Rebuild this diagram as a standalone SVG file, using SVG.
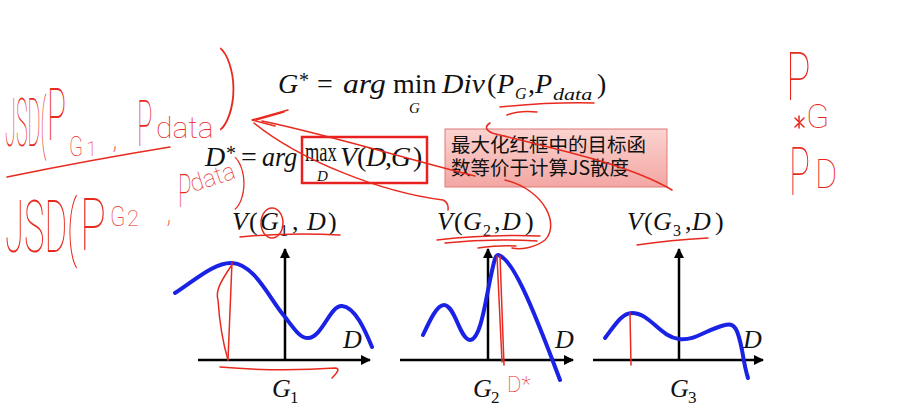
<svg xmlns="http://www.w3.org/2000/svg" width="897" height="419" viewBox="0 0 897 419">
<defs>
<style>
.m{font-family:"Liberation Serif",serif;font-size:28px;fill:#111}
.t{font-family:"Liberation Serif",serif;font-size:26px;fill:#111}
.i{font-style:italic}
.axis{stroke:#000;stroke-width:2.5;fill:none}
.curve{stroke:#1a22e6;stroke-width:4;fill:none;stroke-linecap:round}
.ink{stroke:#e8291e;stroke-width:1.5;fill:none;stroke-linecap:round;stroke-linejoin:round}
.hw{font-family:Roboto,"Open Sans",sans-serif;font-weight:100;fill:#e8291e}
.cn{font-family:"Noto Sans CJK SC",sans-serif;font-size:19.5px;fill:#111}
</style>
<marker id="ah" viewBox="0 0 10 10" refX="9" refY="5" markerWidth="4" markerHeight="4" orient="auto">
<path d="M0 0 L10 5 L0 10 z" fill="#000"/>
</marker>
<linearGradient id="pk" x1="0" y1="0" x2="0" y2="1">
<stop offset="0" stop-color="#fbd3d0"/>
<stop offset="1" stop-color="#f3a7a3"/>
</linearGradient>
</defs>
<rect width="897" height="419" fill="#fff"/>

<g id="formula-g">
<text class="m"><tspan class="i" x="278" y="93">G</tspan><tspan x="299" y="87" style="font-size:20px">*</tspan><tspan x="317" y="93">=</tspan></text>
<text class="m i" transform="matrix(1.13 0 0 1 343 93)">arg</text>
<text class="m" x="393" y="93">min</text>
<text class="m i" x="409" y="113" style="font-size:15px">G</text>
<text class="m i" transform="matrix(1.06 0 0 1 442 93)">Div</text>
<text class="m"><tspan x="487" y="93">(</tspan><tspan class="i" x="497" y="93">P</tspan><tspan class="i" x="515" y="99" style="font-size:16px">G</tspan><tspan x="528" y="93">,</tspan><tspan class="i" x="535" y="93">P</tspan></text>
<text class="m i" style="font-size:17px" transform="matrix(1.3 0 0 1 553 100)">data</text>
<text class="m" x="597" y="93">)</text>
</g>

<g id="formula-d">
<text class="m"><tspan class="i" x="205" y="166">D</tspan><tspan x="226" y="160" style="font-size:20px">*</tspan><tspan x="241" y="166">=</tspan></text>
<text class="m i" transform="matrix(0.93 0 0 1 262 166)">arg</text>
<text class="m" transform="matrix(0.66 0 0 1 305 161)">max</text>
<text class="m i" x="317" y="181" style="font-size:15px">D</text>
<text class="m"><tspan class="i" x="340" y="166">V</tspan><tspan x="357" y="166">(</tspan><tspan class="i" x="366" y="166">D</tspan><tspan x="385" y="166">,</tspan><tspan class="i" x="391" y="166">G</tspan><tspan x="413" y="166">)</tspan></text>
<rect x="302" y="137" width="125" height="46" fill="none" stroke="#e82020" stroke-width="2.5"/>
</g>

<g id="callout">
<rect x="445" y="129" width="222" height="58" fill="url(#pk)" stroke="#e07a78" stroke-width="1"/>
<text class="cn"><tspan x="451" y="152">最大化红框中的目标函</tspan><tspan x="451" y="175">数等价于计算JS散度</tspan></text>
</g>

<g id="plot1">
<text class="t"><tspan class="i" x="232" y="230">V</tspan><tspan x="249" y="230">(</tspan><tspan class="i" x="260" y="230">G</tspan><tspan x="280" y="236" style="font-size:16px">1</tspan><tspan x="292" y="230">,</tspan><tspan class="i" x="307" y="230">D</tspan><tspan x="328" y="230">)</tspan></text>
<line class="axis" x1="285" y1="361" x2="285" y2="249" marker-end="url(#ah)"/>
<line class="axis" x1="198" y1="360" x2="370" y2="360" marker-end="url(#ah)"/>
<path class="curve" d="M175 293 C195 280 215 262 232 263 C255 264 270 300 285 317 C295 330 300 338 308 338 C322 338 330 305 342 306 C355 307 365 330 372 347"/>
<text class="t i" x="343" y="348">D</text>
<text class="t"><tspan class="i" x="272" y="397">G</tspan><tspan x="290" y="403" style="font-size:17px">1</tspan></text>
</g>

<g id="plot2">
<text class="t"><tspan class="i" x="437" y="230">V</tspan><tspan x="454" y="230">(</tspan><tspan class="i" x="463" y="230">G</tspan><tspan x="483" y="236" style="font-size:16px">2</tspan><tspan x="494" y="230">,</tspan><tspan class="i" x="502" y="230">D</tspan><tspan x="525" y="230">)</tspan></text>
<line class="axis" x1="488" y1="361" x2="488" y2="249" marker-end="url(#ah)"/>
<line class="axis" x1="400" y1="360" x2="573" y2="360" marker-end="url(#ah)"/>
<path class="curve" d="M423 335 C430 320 437 305 444 305 C455 305 460 340 470 340 C480 340 485 305 490 280 C494 262 495 255 498 255 C512 258 530 300 560 380"/>
<text class="t i" x="555" y="348">D</text>
<text class="t"><tspan class="i" x="473" y="397">G</tspan><tspan x="491" y="403" style="font-size:17px">2</tspan></text>
</g>

<g id="plot3">
<text class="t"><tspan class="i" x="627" y="230">V</tspan><tspan x="644" y="230">(</tspan><tspan class="i" x="653" y="230">G</tspan><tspan x="673" y="236" style="font-size:16px">3</tspan><tspan x="685" y="230">,</tspan><tspan class="i" x="692" y="230">D</tspan><tspan x="715" y="230">)</tspan></text>
<line class="axis" x1="679" y1="361" x2="679" y2="249" marker-end="url(#ah)"/>
<line class="axis" x1="593" y1="360" x2="763" y2="360" marker-end="url(#ah)"/>
<path class="curve" d="M605 338 C615 325 622 313 632 313 C650 313 660 337 679 339 C695 341 705 330 725 325 C735 322 738 330 742 350 C744 362 746 372 748 378"/>
<text class="t i" x="743" y="348">D</text>
<text class="t"><tspan class="i" x="670" y="397">G</tspan><tspan x="688" y="403" style="font-size:17px">3</tspan></text>
</g>

<g id="handwriting-left">
<text class="hw" font-size="66" transform="matrix(0.30 0 0 1 5 146)">JSD(</text>
<text class="hw" font-size="72" transform="matrix(0.44 0 0 1 47 140)">P</text>
<text class="hw" font-size="28" transform="matrix(0.73 0 0 1 69 156)">G</text>
<text class="hw" x="86" y="156" font-size="20">1</text>
<text class="hw" x="112" y="148" font-size="30">,</text>
<text class="hw" font-size="64" transform="matrix(0.4 0 0 1 137 146)">P</text>
<text class="hw" x="156" y="138" font-size="30">data</text>
<text class="hw" font-size="82" transform="matrix(0.83 0 0 1 219 112)">)</text>
<text class="hw" font-size="72" transform="matrix(0.48 0 0 1 5 252)">JSD(</text>
<text class="hw" font-size="72" transform="matrix(0.6 0 0 1 80 250)">P</text>
<text class="hw" font-size="28" transform="matrix(0.8 0 0 1 110 226)">G</text>
<text class="hw" x="127" y="226" font-size="22">2</text>
<text class="hw" x="166" y="222" font-size="30">,</text>
<text class="hw" font-size="46" transform="matrix(0.48 0 0 1 178 207)">P</text>
<text class="hw" x="193" y="192" font-size="24" transform="rotate(-18 193 192)">data</text>
<text class="hw" font-size="52" transform="matrix(0.9 0 0 1 234 198)">)</text>
</g>

<g id="handwriting-right">
<text class="hw" font-size="66" transform="matrix(0.62 0 0 1 786 100)">P</text>
<text class="hw" x="806" y="128" font-size="34">G</text>
<path class="ink" d="M795 118 l9 9 m-9 0 l9 -9 m-5 -2 l0 12"/>
<text class="hw" font-size="66" transform="matrix(0.53 0 0 1 789 195)">P</text>
<text class="hw" font-size="40" transform="matrix(0.85 0 0 1 815 188)">D</text>
<text class="hw" x="507" y="392" font-size="22">D*</text>
</g>

<g id="connectors">
<path class="ink" d="M7 177 Q90 160 170 147"/>
<path class="ink" d="M288 110 L252 120 L275 126"/>
<path class="ink" d="M284 112 L256 120"/>
<path class="ink" d="M262 121 C330 135 410 160 475 176"/>
<path class="ink" d="M254 123 C300 160 380 192 443 200 Q449 203 448 210"/>
<path class="ink" d="M490 123 Q482 128 492 133 C560 150 630 165 672 190"/>
<path class="ink" d="M500 107 Q550 102 594 103"/>
<path class="ink" d="M507 115 Q520 110 537 112"/>
<path class="ink" d="M437 240 Q490 234 540 236"/>
<path class="ink" d="M445 243 Q490 238 537 241"/>
<path class="ink" d="M478 248 Q500 245 516 246"/>
<path class="ink" d="M505 180 C545 190 560 225 545 240 C535 248 520 250 512 248"/>
<path class="ink" d="M497 256 L502 362 M500 256 L504 365"/>
<ellipse class="ink" cx="272" cy="223" rx="11" ry="15"/>
<path class="ink" d="M240 237 Q290 232 340 235"/>
<path class="ink" d="M232 262 L228 360"/>
<path class="ink" d="M231 266 C222 280 215 290 218 300 C220 330 225 350 228 360"/>
<path class="ink" d="M220 367 Q280 372 335 368 Q342 368 332 378"/>
<path class="ink" d="M630 313 L631 365" stroke-width="5"/>
<path class="ink" d="M637 245 Q670 240 708 238" stroke-width="2.5"/>
</g>
</svg>
